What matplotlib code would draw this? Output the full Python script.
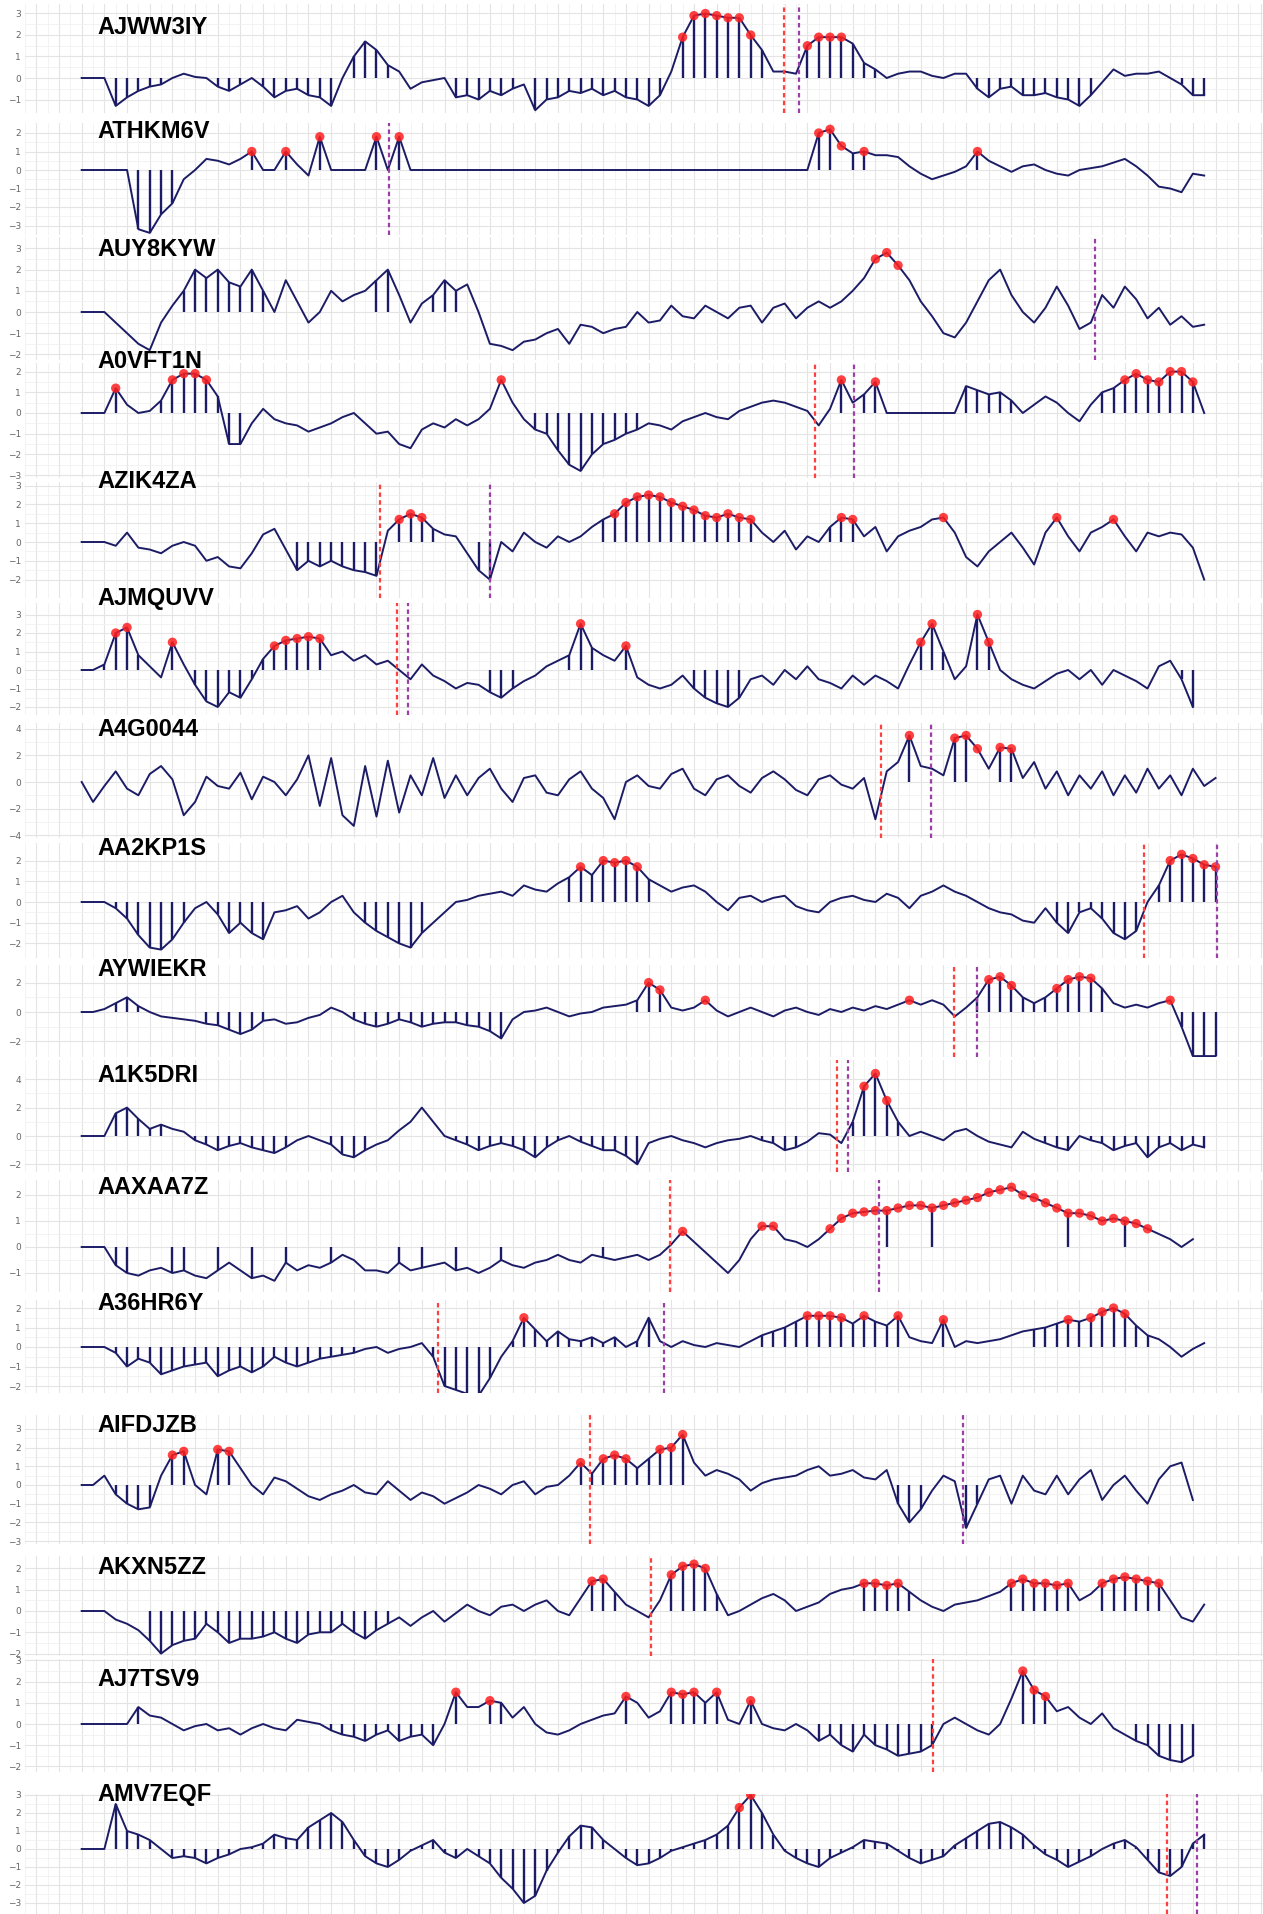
#!/usr/bin/env python

import numpy as np
import matplotlib
matplotlib.use("Agg")
import matplotlib.pyplot as plt

# ---- data (x = sample index) ----
names = ["AJWW3IY", "ATHKM6V", "AUY8KYW", "A0VFT1N", "AZIK4ZA", "AJMQUVV", "A4G0044", "AA2KP1S",
         "AYWIEKR", "A1K5DRI", "AAXAA7Z", "A36HR6Y", "AIFDJZB", "AKXN5ZZ", "AJ7TSV9", "AMV7EQF"]

ajww3iy_vals = [0, 0, 0, -1.3, -0.9, -0.6, -0.4, -0.3, 0.0, 0.2,
                0.05, 0.0, -0.4, -0.6, -0.3, 0.0, -0.4, -0.9, -0.6, -0.5,
                -0.8, -0.9, -1.3, 0.0, 1.0, 1.7, 1.3, 0.6, 0.3, -0.5,
                -0.2, -0.1, 0.0, -0.9, -0.8, -1.0, -0.6, -0.8, -0.5, -0.3,
                -1.5, -1.0, -0.9, -0.6, -0.7, -0.5, -0.8, -0.6, -0.9, -1.0,
                -1.3, -0.8, 0.3, 1.9, 2.9, 3.0, 2.9, 2.8, 2.8, 2.0,
                1.3, 0.3, 0.3, 0.2, 1.5, 1.9, 1.9, 1.9, 1.6, 0.7,
                0.4, 0.0, 0.2, 0.3, 0.3, 0.1, 0.0, 0.2, 0.2, -0.5,
                -0.9, -0.5, -0.4, -0.8, -0.8, -0.7, -0.9, -1.0, -1.3, -0.8,
                -0.2, 0.4, 0.1, 0.2, 0.2, 0.3, 0.0, -0.3, -0.8, -0.8]
ajww3iy_stems = [(3, 7), (12, 14), (16, 22), (24, 27), (33, 38), (40, 51), (53, 60), (64, 70), (79, 89), (97, 99)]
ajww3iy_dots = [(53, 59), (64, 67)]
ajww3iy_red = [61.9]
ajww3iy_purple = [63.3]

athkm6v_vals = [0, 0, 0, 0, 0, -3.2, -3.4, -2.4, -1.8, -0.5,
                0.0, 0.6, 0.5, 0.3, 0.6, 1.0, 0, 0, 1.0, 0.3,
                -0.3, 1.8, 0, 0, 0, 0, 1.8, 0, 1.8, 0,
                0, 0, 0, 0, 0, 0, 0, 0, 0, 0,
                0, 0, 0, 0, 0, 0, 0, 0, 0, 0,
                0, 0, 0, 0, 0, 0, 0, 0, 0, 0,
                0, 0, 0, 0, 0, 2.0, 2.2, 1.3, 0.9, 1.0,
                0.8, 0.8, 0.7, 0.2, -0.2, -0.5, -0.3, -0.1, 0.2, 1.0,
                0.5, 0.2, -0.1, 0.2, 0.3, 0.0, -0.2, -0.3, 0.0, 0.1,
                0.2, 0.4, 0.6, 0.2, -0.3, -0.9, -1.0, -1.2, -0.2, -0.3]
athkm6v_stems = [(5, 8), (15, 15), (18, 18), (21, 21), (26, 26), (28, 28), (65, 66), (68, 69), (79, 79)]
athkm6v_dots = [(15, 15), (18, 18), (21, 21), (26, 26), (28, 28), (65, 67), (69, 69), (79, 79)]
athkm6v_red = []
athkm6v_purple = [27.1]

auy8kyw_vals = [0, 0, 0, -0.5, -1.0, -1.5, -1.8, -0.5, 0.3, 1.0,
                2.0, 1.6, 2.0, 1.4, 1.2, 2.0, 1.0, 0.0, 1.5, 0.5,
                -0.5, 0.0, 1.0, 0.5, 0.8, 1.0, 1.5, 2.0, 0.8, -0.5,
                0.4, 0.8, 1.5, 1.0, 1.3, 0.0, -1.5, -1.6, -1.8, -1.4,
                -1.3, -1.0, -0.8, -1.5, -0.6, -0.7, -1.0, -0.8, -0.7, 0.0,
                -0.5, -0.4, 0.3, -0.2, -0.3, 0.3, 0.0, -0.3, 0.2, 0.3,
                -0.5, 0.2, 0.4, -0.3, 0.2, 0.5, 0.2, 0.5, 1.0, 1.6,
                2.5, 2.8, 2.2, 1.5, 0.5, -0.2, -1.0, -1.2, -0.5, 0.5,
                1.5, 2.0, 0.8, 0.0, -0.5, 0.2, 1.2, 0.3, -0.8, -0.5,
                0.8, 0.2, 1.2, 0.6, -0.3, 0.2, -0.6, -0.2, -0.7, -0.6]
auy8kyw_stems = [(9, 16), (26, 27), (31, 33)]
auy8kyw_dots = [(70, 72)]
auy8kyw_red = []
auy8kyw_purple = [89.4]

a0vft1n_vals = [0, 0, 0, 1.2, 0.4, 0.0, 0.1, 0.6, 1.6, 1.9,
                1.9, 1.6, 0.8, -1.5, -1.5, -0.5, 0.2, -0.3, -0.5, -0.6,
                -0.9, -0.7, -0.5, -0.2, 0.0, -0.5, -1.0, -0.9, -1.5, -1.7,
                -0.8, -0.5, -0.7, -0.3, -0.6, -0.3, 0.2, 1.6, 0.5, -0.3,
                -0.8, -1.0, -1.8, -2.5, -2.8, -2.0, -1.5, -1.3, -1.0, -0.8,
                -0.5, -0.6, -0.8, -0.4, -0.2, 0.0, -0.2, -0.3, 0.1, 0.3,
                0.5, 0.6, 0.5, 0.3, 0.1, -0.6, 0.2, 1.6, 0.5, 0.9,
                1.5, 0, 0, 0, 0, 0, 0, 0, 1.3, 1.1,
                0.9, 1.0, 0.6, 0.0, 0.4, 0.8, 0.5, 0.0, -0.4, 0.4,
                1.0, 1.2, 1.6, 1.9, 1.6, 1.5, 2.0, 2.0, 1.5, 0.0]
a0vft1n_stems = [(3, 3), (7, 12), (13, 14), (40, 49), (67, 67), (69, 70), (78, 82), (90, 98)]
a0vft1n_dots = [(3, 3), (8, 11), (37, 37), (67, 67), (70, 70), (92, 98)]
a0vft1n_red = [64.7]
a0vft1n_purple = [68.1]

azik4za_vals = [0, 0, 0, -0.2, 0.5, -0.3, -0.4, -0.6, -0.2, 0.0,
                -0.2, -1.0, -0.8, -1.3, -1.4, -0.6, 0.4, 0.7, -0.4, -1.5,
                -1.0, -1.3, -1.0, -1.3, -1.5, -1.6, -1.8, 0.6, 1.2, 1.5,
                1.3, 0.7, 0.4, 0.3, -0.6, -1.5, -2.0, 0.0, -0.5, 0.5,
                0.0, -0.3, 0.3, 0.0, 0.3, 0.8, 1.2, 1.5, 2.1, 2.4,
                2.5, 2.4, 2.1, 1.9, 1.7, 1.4, 1.3, 1.5, 1.3, 1.2,
                0.5, 0.0, 0.6, -0.4, 0.3, 0.0, 0.8, 1.3, 1.2, 0.3,
                0.8, -0.5, 0.3, 0.6, 0.8, 1.2, 1.3, 0.5, -0.8, -1.3,
                -0.5, 0.0, 0.5, -0.3, -1.2, 0.5, 1.3, 0.3, -0.5, 0.5,
                0.8, 1.2, 0.3, -0.5, 0.5, 0.3, 0.5, 0.4, -0.3, -2.0]
azik4za_stems = [(19, 26), (28, 31), (35, 36), (46, 59), (66, 68)]
azik4za_dots = [(28, 30), (47, 59), (67, 68), (76, 76), (86, 86), (91, 91)]
azik4za_red = [26.3]
azik4za_purple = [36.0]

ajmquvv_vals = [0, 0, 0.3, 2.0, 2.3, 0.8, 0.2, -0.4, 1.5, 0.3,
                -0.8, -1.7, -2.0, -1.2, -1.5, -0.5, 0.6, 1.3, 1.6, 1.7,
                1.8, 1.7, 0.8, 1.0, 0.5, 0.8, 0.3, 0.5, 0.0, -0.5,
                0.3, -0.3, -0.6, -1.0, -0.7, -0.8, -1.2, -1.5, -1.0, -0.6,
                -0.3, 0.2, 0.5, 0.8, 2.5, 1.2, 0.8, 0.5, 1.3, -0.4,
                -0.8, -1.0, -0.8, -0.3, -1.0, -1.5, -1.8, -2.0, -1.5, -0.5,
                -0.3, -0.8, 0.0, -0.5, 0.2, -0.5, -0.7, -1.0, -0.3, -0.8,
                -0.3, -0.6, -1.0, 0.3, 1.5, 2.5, 1.0, -0.5, 0.2, 3.0,
                1.5, 0.0, -0.5, -0.8, -1.0, -0.6, -0.2, 0.0, -0.5, 0.0,
                -0.8, 0.0, -0.3, -0.6, -1.0, 0.2, 0.5, -0.5, -2.0]
ajmquvv_stems = [(2, 5), (8, 8), (10, 15), (16, 21), (36, 38), (43, 45), (48, 48), (54, 58), (74, 76), (79, 80), (97, 98)]
ajmquvv_dots = [(3, 4), (8, 8), (17, 21), (44, 44), (48, 48), (74, 75), (79, 80)]
ajmquvv_red = [27.8]
ajmquvv_purple = [28.8]

a4g0044_vals = [0, -1.5, -0.3, 0.8, -0.5, -1.0, 0.6, 1.2, 0.2, -2.5,
                -1.5, 0.4, -0.3, -0.5, 0.7, -1.3, 0.4, 0.0, -1.0, 0.2,
                2.0, -1.8, 1.8, -2.5, -3.3, 1.2, -2.6, 1.6, -2.3, 0.5,
                -1.0, 1.8, -1.2, 0.5, -1.0, 0.3, 1.0, -0.5, -1.5, 0.3,
                0.5, -0.8, -1.0, 0.2, 0.8, -0.5, -1.2, -2.8, 0.0, 0.5,
                -0.3, -0.5, 0.6, 1.0, -0.5, -1.0, 0.2, 0.5, -0.3, -0.8,
                0.3, 0.8, 0.2, -0.6, -1.0, 0.2, 0.5, -0.2, -0.5, 0.3,
                -2.8, 0.8, 1.5, 3.5, 1.2, 1.0, 0.5, 3.3, 3.5, 2.5,
                1.0, 2.6, 2.5, 0.3, 1.5, -0.5, 0.8, -1.0, 0.5, -0.5,
                0.8, -1.0, 0.5, -0.8, 1.0, -0.5, 0.5, -1.0, 1.0, -0.3,
                0.3]
a4g0044_stems = [(73, 73), (77, 78), (81, 82)]
a4g0044_dots = [(73, 73), (77, 79), (81, 82)]
a4g0044_red = [70.5]
a4g0044_purple = [74.9]

aa2kp1s_vals = [0, 0, 0, -0.3, -0.8, -1.6, -2.2, -2.3, -1.8, -1.0,
                -0.3, 0.0, -0.6, -1.5, -1.0, -1.5, -1.8, -0.5, -0.4, -0.2,
                -0.8, -0.5, 0.0, 0.3, -0.5, -1.0, -1.4, -1.7, -2.0, -2.2,
                -1.5, -1.0, -0.5, 0.0, 0.1, 0.3, 0.4, 0.5, 0.3, 0.8,
                0.6, 0.5, 0.9, 1.2, 1.7, 1.3, 2.0, 1.9, 2.0, 1.7,
                1.1, 0.8, 0.5, 0.7, 0.8, 0.5, 0.0, -0.4, 0.2, 0.3,
                0.0, 0.2, 0.3, -0.2, -0.4, -0.5, 0.0, 0.2, 0.3, 0.1,
                0.0, 0.4, 0.2, -0.3, 0.3, 0.5, 0.8, 0.5, 0.3, 0.0,
                -0.3, -0.5, -0.6, -0.9, -1.0, -0.3, -1.0, -1.5, -0.5, -0.3,
                -0.8, -1.5, -1.8, -1.4, 0.0, 0.8, 2.0, 2.3, 2.1, 1.8,
                1.7]
aa2kp1s_stems = [(3, 9), (12, 16), (25, 30), (43, 50), (86, 93), (95, 100)]
aa2kp1s_dots = [(44, 44), (46, 49), (96, 100)]
aa2kp1s_red = [93.7]
aa2kp1s_purple = [100.1]

aywiekr_vals = [0, 0, 0.2, 0.6, 1.0, 0.4, 0.0, -0.3, -0.4, -0.5,
                -0.6, -0.8, -0.9, -1.2, -1.5, -1.2, -0.6, -0.5, -0.8, -0.7,
                -0.4, -0.2, 0.3, 0.0, -0.5, -0.8, -1.0, -0.8, -0.5, -0.7,
                -1.0, -0.8, -0.7, -0.7, -0.9, -1.0, -1.3, -1.8, -0.5, 0.0,
                0.1, 0.3, 0.0, -0.3, -0.1, 0.0, 0.3, 0.4, 0.5, 0.8,
                2.0, 1.5, 0.3, 0.1, 0.3, 0.8, 0.1, -0.3, 0.0, 0.3,
                0.0, -0.3, 0.1, 0.3, 0.0, -0.2, 0.2, 0.0, 0.3, 0.1,
                0.4, 0.2, 0.5, 0.8, 0.5, 0.8, 0.5, -0.3, 0.3, 1.0,
                2.2, 2.4, 1.8, 1.0, 0.6, 1.0, 1.6, 2.2, 2.4, 2.3,
                1.6, 0.6, 0.3, 0.5, 0.3, 0.6, 0.8, -1.0, -3.0, -3.0,
                -3.0]
aywiekr_stems = [(3, 5), (11, 16), (24, 37), (49, 51), (79, 90), (97, 100)]
aywiekr_dots = [(50, 51), (55, 55), (73, 73), (80, 82), (86, 89), (96, 96)]
aywiekr_red = [76.9]
aywiekr_purple = [79.0]

a1k5dri_vals = [0, 0, 0, 1.6, 2.0, 1.2, 0.5, 0.8, 0.5, 0.3,
                -0.3, -0.6, -1.0, -0.7, -0.5, -0.8, -1.0, -1.2, -0.8, -0.3,
                0.0, -0.3, -0.6, -1.3, -1.5, -1.0, -0.6, -0.3, 0.4, 1.0,
                2.0, 1.0, 0.0, -0.3, -0.6, -1.0, -0.7, -0.5, -0.7, -1.0,
                -1.5, -0.8, -0.3, 0.0, -0.4, -0.7, -1.0, -1.0, -1.4, -2.0,
                -0.5, -0.2, 0.0, -0.3, -0.5, -0.8, -0.5, -0.3, -0.2, 0.0,
                -0.3, -0.5, -1.0, -0.8, -0.4, 0.2, 0.1, -0.5, 1.0, 3.5,
                4.4, 2.5, 1.0, 0.0, 0.3, 0.0, -0.3, 0.3, 0.5, 0.0,
                -0.4, -0.6, -0.8, 0.3, -0.2, -0.5, -0.8, -1.0, 0.0, -0.3,
                -0.5, -1.0, -0.7, -0.5, -1.5, -0.8, -0.5, -1.0, -0.6, -0.8]
a1k5dri_stems = [(3, 7), (10, 18), (22, 25), (33, 49), (60, 63), (68, 72), (85, 99)]
a1k5dri_dots = [(69, 71)]
a1k5dri_red = [66.6]
a1k5dri_purple = [67.6]

aaxaa7z_vals = [0, 0, 0, -0.7, -1.0, -1.1, -0.9, -0.8, -1.0, -0.9,
                -1.1, -1.2, -0.9, -0.6, -0.9, -1.2, -1.1, -1.3, -0.6, -0.9,
                -0.7, -0.8, -0.6, -0.3, -0.5, -0.9, -0.9, -1.0, -0.6, -0.9,
                -0.8, -0.7, -0.6, -0.9, -0.8, -1.0, -0.8, -0.5, -0.7, -0.8,
                -0.6, -0.5, -0.3, -0.5, -0.6, -0.3, -0.4, -0.5, -0.4, -0.3,
                -0.5, -0.3, 0.1, 0.6, 0.2, -0.2, -0.6, -1.0, -0.5, 0.3,
                0.8, 0.8, 0.3, 0.2, 0.0, 0.3, 0.7, 1.1, 1.3, 1.35,
                1.4, 1.4, 1.5, 1.6, 1.6, 1.5, 1.6, 1.7, 1.8, 1.9,
                2.1, 2.2, 2.3, 2.0, 1.9, 1.7, 1.5, 1.3, 1.3, 1.2,
                1.0, 1.1, 1.0, 0.9, 0.7, 0.5, 0.3, 0.0, 0.3]
aaxaa7z_stems = [(3, 4), (8, 9), (12, 12), (15, 15), (18, 18), (22, 22), (28, 28), (30, 30),
                 (33, 33), (37, 37), (46, 46), (71, 71), (75, 75), (87, 87), (92, 92)]
aaxaa7z_dots = [(53, 53), (60, 61), (66, 94)]
aaxaa7z_red = [51.9]
aaxaa7z_purple = [70.3]

a36hr6y_vals = [0, 0, 0, -0.3, -1.0, -0.6, -0.8, -1.4, -1.2, -1.0,
                -0.9, -0.8, -1.5, -1.2, -1.0, -1.3, -1.0, -0.5, -0.8, -1.0,
                -0.8, -0.6, -0.5, -0.4, -0.3, -0.1, 0.0, -0.3, -0.1, 0.0,
                0.2, -0.5, -2.0, -2.2, -2.4, -2.5, -1.6, -0.5, 0.3, 1.5,
                0.9, 0.3, 0.8, 0.4, 0.3, 0.5, 0.2, 0.5, 0.0, 0.3,
                1.5, 0.3, 0.0, 0.3, 0.1, 0.0, 0.2, 0.1, 0.0, 0.3,
                0.6, 0.8, 1.0, 1.3, 1.6, 1.6, 1.6, 1.5, 1.2, 1.6,
                1.3, 1.1, 1.6, 0.5, 0.3, 0.2, 1.4, 0.0, 0.3, 0.2,
                0.3, 0.4, 0.6, 0.8, 0.9, 1.0, 1.2, 1.4, 1.3, 1.5,
                1.8, 2.0, 1.7, 1.1, 0.6, 0.4, 0.0, -0.5, -0.1, 0.2]
a36hr6y_stems = [(3, 24), (31, 36), (38, 50), (60, 72), (76, 76), (84, 94)]
a36hr6y_dots = [(39, 39), (64, 67), (69, 69), (72, 72), (76, 76), (87, 87), (89, 92)]
a36hr6y_red = [31.4]
a36hr6y_purple = [51.4]

aifdjzb_vals = [0, 0, 0.5, -0.5, -1.0, -1.3, -1.2, 0.5, 1.6, 1.8,
                0.0, -0.5, 1.9, 1.8, 0.9, 0.0, -0.5, 0.4, 0.2, -0.2,
                -0.6, -0.8, -0.5, -0.3, 0.0, -0.4, -0.5, 0.2, -0.3, -0.8,
                -0.4, -0.6, -1.0, -0.7, -0.4, 0.0, -0.2, -0.5, 0.0, 0.2,
                -0.5, -0.1, 0.0, 0.5, 1.2, 0.6, 1.4, 1.6, 1.4, 0.9,
                1.4, 1.9, 2.0, 2.7, 1.2, 0.5, 0.8, 0.6, 0.3, -0.3,
                0.1, 0.3, 0.4, 0.5, 0.8, 1.0, 0.5, 0.6, 0.8, 0.4,
                0.3, 0.8, -1.0, -2.0, -1.3, -0.3, 0.5, 0.2, -2.3, -1.0,
                0.3, 0.5, -1.0, 0.5, -0.3, -0.5, 0.5, -0.5, 0.3, 0.8,
                -0.8, 0.0, 0.5, -0.3, -1.0, 0.3, 1.0, 1.2, -0.8]
aifdjzb_stems = [(3, 6), (8, 9), (12, 13), (44, 53), (72, 74), (78, 79)]
aifdjzb_dots = [(8, 9), (12, 13), (44, 44), (46, 48), (51, 53)]
aifdjzb_red = [44.8]
aifdjzb_purple = [77.7]

akxn5zz_vals = [0, 0, 0, -0.4, -0.6, -0.9, -1.4, -2.0, -1.6, -1.4,
                -1.3, -0.6, -1.0, -1.5, -1.3, -1.3, -1.2, -1.0, -1.3, -1.5,
                -1.1, -1.0, -1.0, -0.6, -1.0, -1.3, -0.9, -0.6, -0.3, -0.7,
                -0.3, 0.0, -0.5, -0.1, 0.3, 0.0, -0.2, 0.2, 0.3, 0.0,
                0.3, 0.5, 0.0, -0.2, 0.6, 1.4, 1.5, 0.9, 0.3, 0.0,
                -0.3, 0.5, 1.7, 2.1, 2.2, 2.0, 0.8, -0.2, 0.0, 0.3,
                0.6, 0.8, 0.5, 0.0, 0.2, 0.4, 0.8, 1.0, 1.1, 1.3,
                1.3, 1.2, 1.3, 0.9, 0.5, 0.2, 0.0, 0.3, 0.4, 0.5,
                0.7, 0.9, 1.3, 1.5, 1.3, 1.3, 1.2, 1.3, 0.5, 0.8,
                1.3, 1.5, 1.6, 1.5, 1.4, 1.3, 0.5, -0.3, -0.5, 0.3]
akxn5zz_stems = [(6, 27), (45, 47), (52, 56), (69, 73), (82, 87), (90, 95)]
akxn5zz_dots = [(45, 46), (52, 55), (69, 72), (82, 87), (90, 95)]
akxn5zz_red = [50.2]
akxn5zz_purple = []

aj7tsv9_vals = [0, 0, 0, 0, 0, 0.8, 0.4, 0.3, 0.0, -0.3,
                -0.1, 0.0, -0.3, -0.2, -0.5, -0.2, 0.0, -0.2, -0.3, 0.2,
                0.1, 0.0, -0.3, -0.5, -0.6, -0.8, -0.5, -0.3, -0.8, -0.6,
                -0.5, -1.0, 0.0, 1.5, 0.8, 0.8, 1.1, 1.0, 0.3, 0.8,
                0.0, -0.4, -0.5, -0.3, 0.0, 0.2, 0.4, 0.5, 1.3, 1.0,
                0.3, 0.6, 1.5, 1.4, 1.5, 1.0, 1.5, 0.2, 0.0, 1.1,
                0.0, -0.2, -0.3, 0.0, -0.3, -0.8, -0.5, -1.0, -1.3, -0.5,
                -1.0, -1.2, -1.5, -1.4, -1.3, -1.0, 0.0, 0.3, 0.0, -0.3,
                -0.5, 0.0, 1.2, 2.5, 1.6, 1.3, 0.6, 0.8, 0.3, 0.0,
                0.5, -0.2, -0.5, -0.8, -1.0, -1.5, -1.7, -1.8, -1.5]
aj7tsv9_stems = [(5, 5), (22, 31), (33, 33), (36, 37), (48, 48), (52, 56), (59, 59), (65, 75), (83, 85), (93, 98)]
aj7tsv9_dots = [(33, 33), (36, 36), (48, 48), (52, 54), (56, 56), (59, 59), (83, 85)]
aj7tsv9_red = [75.1]
aj7tsv9_purple = []

amv7eqf_vals = [0, 0, 0, 2.5, 1.0, 0.8, 0.5, 0.0, -0.5, -0.4,
                -0.5, -0.8, -0.5, -0.3, 0.0, 0.1, 0.3, 0.8, 0.6, 0.5,
                1.2, 1.6, 2.0, 1.5, 0.5, -0.4, -0.8, -1.0, -0.6, -0.1,
                0.2, 0.5, -0.2, -0.5, 0.0, -0.4, -0.8, -1.6, -2.2, -3.0,
                -2.6, -1.2, -0.2, 0.7, 1.3, 1.2, 0.5, 0.0, -0.5, -0.9,
                -0.8, -0.5, -0.1, 0.1, 0.3, 0.5, 0.8, 1.3, 2.3, 3.0,
                2.0, 0.8, -0.1, -0.5, -0.8, -1.0, -0.5, -0.2, 0.1, 0.5,
                0.4, 0.3, -0.1, -0.5, -0.8, -0.6, -0.4, 0.2, 0.6, 1.0,
                1.4, 1.5, 1.2, 0.8, 0.2, -0.3, -0.6, -1.0, -0.7, -0.4,
                0.0, 0.3, 0.5, 0.1, -0.6, -1.3, -1.5, -1.0, 0.3, 0.8]
amv7eqf_stems = [(3, 99)]
amv7eqf_dots = [(58, 59)]
amv7eqf_red = [95.7]
amv7eqf_purple = [98.4]

series = [
    (ajww3iy_vals, ajww3iy_stems, ajww3iy_dots, ajww3iy_red, ajww3iy_purple),
    (athkm6v_vals, athkm6v_stems, athkm6v_dots, athkm6v_red, athkm6v_purple),
    (auy8kyw_vals, auy8kyw_stems, auy8kyw_dots, auy8kyw_red, auy8kyw_purple),
    (a0vft1n_vals, a0vft1n_stems, a0vft1n_dots, a0vft1n_red, a0vft1n_purple),
    (azik4za_vals, azik4za_stems, azik4za_dots, azik4za_red, azik4za_purple),
    (ajmquvv_vals, ajmquvv_stems, ajmquvv_dots, ajmquvv_red, ajmquvv_purple),
    (a4g0044_vals, a4g0044_stems, a4g0044_dots, a4g0044_red, a4g0044_purple),
    (aa2kp1s_vals, aa2kp1s_stems, aa2kp1s_dots, aa2kp1s_red, aa2kp1s_purple),
    (aywiekr_vals, aywiekr_stems, aywiekr_dots, aywiekr_red, aywiekr_purple),
    (a1k5dri_vals, a1k5dri_stems, a1k5dri_dots, a1k5dri_red, a1k5dri_purple),
    (aaxaa7z_vals, aaxaa7z_stems, aaxaa7z_dots, aaxaa7z_red, aaxaa7z_purple),
    (a36hr6y_vals, a36hr6y_stems, a36hr6y_dots, a36hr6y_red, a36hr6y_purple),
    (aifdjzb_vals, aifdjzb_stems, aifdjzb_dots, aifdjzb_red, aifdjzb_purple),
    (akxn5zz_vals, akxn5zz_stems, akxn5zz_dots, akxn5zz_red, akxn5zz_purple),
    (aj7tsv9_vals, aj7tsv9_stems, aj7tsv9_dots, aj7tsv9_red, aj7tsv9_purple),
    (amv7eqf_vals, amv7eqf_stems, amv7eqf_dots, amv7eqf_red, amv7eqf_purple),
]

# ---- layout (pixels): panel top, bottom, zero line, px per unit, tick step, title y ----
layout = [
    (4, 113, 78, 21.5, 1, 27),
    (123, 235, 170, 18.5, 1, 131),
    (237, 360, 312, 21.2, 1, 249),
    (363, 478, 413, 20.7, 1, 361),
    (482, 598, 542, 18.8, 1, 482),
    (603, 715, 670, 18.5, 1, 598),
    (723, 838, 782, 13.3, 2, 730),
    (843, 958, 902, 20.7, 1, 849),
    (965, 1057, 1012, 14.7, 2, 970),
    (1060, 1172, 1136, 14.2, 2, 1075),
    (1180, 1292, 1247, 26.0, 1, 1187),
    (1300, 1393, 1347, 19.5, 1, 1303),
    (1415, 1544, 1485, 18.7, 1, 1425),
    (1556, 1656, 1611, 21.3, 1, 1567),
    (1659, 1772, 1724, 21.2, 1, 1679),
    (1794, 1914, 1849, 18.0, 1, 1794),
]

W, H = 1263, 1914
LEFT = 25          # left edge of panels (px)
X0, DX = 80.5, 11.35   # pixel of index 0, pixels per index step
NAVY = "#1c1c66"
RED = "#ff1f1f"
RED_LINE = "#ff4040"
PURPLE = "#9a3fa6"


def expand(ranges, n):
    """ turn (start, end) ranges into an index array """
    idx = []
    for a, b in ranges:
        idx.extend(range(a, min(b, n - 1) + 1))
    return np.array(idx, dtype=int)


def draw_panel(fig, name, data, lay):
    vals, stems, dots, red, purple = data
    top, bottom, zero, unit, step, ty = lay
    ax = fig.add_axes([LEFT / W, 1 - bottom / H, (W - LEFT) / W, (bottom - top) / H])
    lo = -(bottom - zero) / unit
    hi = (zero - top) / unit
    ax.set_ylim(lo, hi)
    ax.set_xlim((LEFT - X0) / DX, (W - X0) / DX)

    # grid like ggplot's minimal theme
    ticks = np.arange(np.ceil(lo / step) * step, hi + 1e-9, step).astype(int)
    ax.set_yticks(ticks)
    ax.set_yticks(ticks[:-1] + step / 2, minor=True)
    ax.set_yticklabels([str(t).replace("-", "\u2212") for t in ticks])
    ax.set_xticks(np.arange(-4, 105, 2))
    ax.set_xticks(np.arange(-5, 105, 2), minor=True)
    ax.tick_params(axis="x", which="both", length=0, labelbottom=False)
    ax.tick_params(axis="y", which="both", length=0, pad=3, labelsize=6.5, labelcolor="#666666")
    ax.grid(which="major", color="#e4e4e4", lw=0.8)
    ax.grid(which="minor", color="#f1f1f1", lw=0.6)
    ax.set_axisbelow(True)
    for s in ax.spines.values():
        s.set_visible(False)
    ax.patch.set_alpha(0)

    x = np.arange(len(vals))
    y = np.array(vals, dtype=float)
    si = expand(stems, len(vals))
    if len(si):
        ax.vlines(si, 0, y[si], color=NAVY, lw=1.7, zorder=2)
    ax.plot(x, y, color=NAVY, lw=1.4, zorder=3)
    di = expand(dots, len(vals))
    if len(di):
        ax.scatter(di, y[di], s=45, color=RED, alpha=0.85, edgecolors="none", zorder=4)
    for p in red:
        ax.axvline(p, color=RED_LINE, lw=1.6, ls=(0, (2, 1.5)), zorder=5)
    for p in purple:
        ax.axvline(p, color=PURPLE, lw=1.6, ls=(0, (2, 1.5)), zorder=5)

    fig.text(97 / W, 1 - ty / H, name, fontsize=17, fontweight="bold",
             family=["Liberation Sans", "DejaVu Sans"], ha="left", va="center", zorder=10)


def main():
    fig = plt.figure(figsize=(W / 100, H / 100), dpi=100)
    fig.patch.set_facecolor("white")
    for name, data, lay in zip(names, series, layout):
        draw_panel(fig, name, data, lay)
    fig.savefig("out.png", dpi=100, facecolor="white")


if __name__ == "__main__":
    main()
